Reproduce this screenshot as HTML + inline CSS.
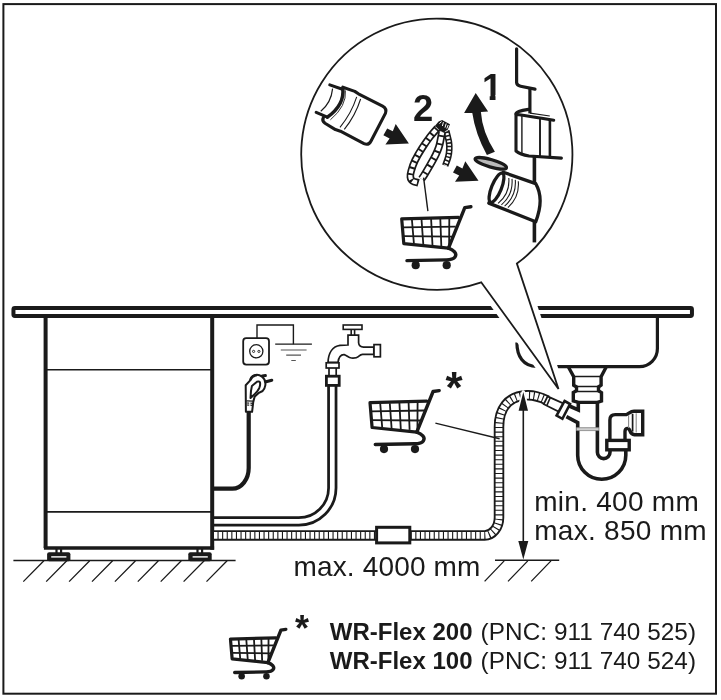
<!DOCTYPE html>
<html lang="en">
<head>
<meta charset="utf-8">
<title>Dishwasher drain hose installation</title>
<style>
html,body{margin:0;padding:0;background:#fff;}
body{width:721px;height:700px;overflow:hidden;}
svg{display:block;will-change:transform;}
text{font-family:"Liberation Sans",Arial,Helvetica,sans-serif;fill:#1a1a1a;}
.k{stroke:#1a1a1a;fill:none;stroke-linecap:butt;stroke-linejoin:miter;}
.r{stroke:#1a1a1a;fill:none;stroke-linecap:round;stroke-linejoin:round;}
.f{fill:#1a1a1a;stroke:none;}
.w{fill:#fff;}
.kw{stroke:#fff;fill:none;}
.kg{stroke:#555;fill:none;}
</style>
</head>
<body>
<svg width="721" height="700" viewBox="0 0 721 700">
<defs>
  <!-- shopping cart symbol, drawn at "bubble" size, origin = basket top-left region -->
  <g id="cart">
    <!-- grid -->
    <g class="k" stroke-width="1.8" vector-effect="non-scaling-stroke">
      <path vector-effect="non-scaling-stroke" d="M12.4 22.5 L14.4 46.5 M22 22.3 L23.8 47.4 M31.6 22 L33 48.2 M40.8 21.8 L41.8 49 M49.8 21.5 L49.6 49.8"/>
      <path vector-effect="non-scaling-stroke" d="M3.2 30.4 L56.2 29.6 M4 39.2 L52.6 39.6"/>
    </g>
    <!-- basket outline -->
    <path class="r" vector-effect="non-scaling-stroke" stroke-width="3.2" d="M2.2 21.8 L59 20.3 M2.2 21.8 L4.3 46.6 L48.8 51.2"/>
    <!-- handle + diagonal -->
    <path class="r" vector-effect="non-scaling-stroke" stroke-width="3.4" d="M71.4 9.7 L65.3 10.6 L49 51.2"/>
    <!-- lower hook + chassis -->
    <path class="r" vector-effect="non-scaling-stroke" stroke-width="3.4" d="M49 51.2 C54 53 58 56.5 55.5 60 C54 62.2 51 62.8 47 62.9 L7.5 63.6"/>
    <circle class="f" cx="16.2" cy="68.2" r="4.1"/>
    <circle class="f" cx="47.2" cy="68.2" r="4.1"/>
  </g>
  <clipPath id="one"><path d="M478 70 H503 V95.1 H495.5 V101 H489.7 V95.1 H478 Z"/></clipPath>
  <!-- straight block arrow used twice in the bubble -->
  <path id="arr" class="f" d="M395.7 124 L408.9 143.6 L385.4 144.6 L389.6 138.4 L383.4 135.2 L387.2 128.4 L392.8 131.2 Z"/>
</defs>

<!-- page background -->
<rect x="0" y="0" width="721" height="700" fill="#fff"/>

<!-- outer frame -->
<rect class="k" x="3.4" y="4.1" width="712.6" height="689.6" stroke-width="2"/>

<!--SECTION:worktop-->
<g id="worktop">
  <rect class="k" x="13.45" y="308" width="678.5" height="8" rx="1.4" stroke-width="4"/>
</g>
<!--SECTION:dishwasher-->
<g id="dishwasher">
  <path class="k" stroke-width="4" d="M45.6 317 V548 M212.2 317 V549.7"/>
  <path class="k" stroke-width="3.3" d="M43.9 548 H214.1"/>
  <path class="k" stroke-width="1.6" d="M46 369.8 H212 M46 511.9 H212"/>
  <!-- feet -->
  <g>
    <rect class="f" x="55.4" y="549" width="2.2" height="4"/><rect class="f" x="60" y="549" width="2.2" height="4"/>
    <rect class="f" x="47.1" y="552.2" width="23.3" height="9" rx="2"/>
    <rect class="w" x="51.2" y="556.2" width="15.2" height="1.4"/>
    <rect class="f" x="196.4" y="549" width="2.2" height="4"/><rect class="f" x="201" y="549" width="2.2" height="4"/>
    <rect class="f" x="188.3" y="552.2" width="23.4" height="9" rx="2"/>
    <rect class="w" x="192.6" y="556.2" width="15.2" height="1.4"/>
  </g>
</g>
<!--SECTION:floor-->
<g id="floor">
  <path class="k" stroke-width="1.5" d="M13.4 560.4 H235.6"/>
  <path class="k" stroke-width="1.3" d="M43.9 560.7 L23.3 581.6 M66.8 560.7 L46.2 581.6 M89.7 560.7 L69.1 581.6 M112.6 560.7 L92.0 581.6 M135.5 560.7 L114.9 581.6 M158.4 560.7 L137.8 581.6 M181.3 560.7 L160.7 581.6 M204.2 560.7 L183.6 581.6 M227.1 560.7 L206.5 581.6"/>
  <path class="k" stroke-width="1.5" d="M495 560.2 H559.2"/>
  <path class="k" stroke-width="1.3" d="M504.2 560.9 L484.6 581.4 M527.8 560.9 L508 581.4 M551 560.9 L531.2 581.4"/>
</g>
<!--SECTION:electric-->
<g id="electric">
  <!-- power cord -->
  <path class="k" stroke-width="4.2" d="M248.7 411 V468 A16.3 20.7 0 0 1 232.4 488.7 H213"/>
  <!-- socket -->
  <rect class="k" x="243.2" y="338.2" width="25.8" height="26.4" rx="3" stroke-width="1.8"/>
  <circle class="k" cx="256.3" cy="351.3" r="6.6" stroke-width="1.3"/>
  <circle class="k" cx="253.6" cy="351.4" r="1.1" stroke-width="0.9"/>
  <circle class="k" cx="258.9" cy="351.4" r="1.1" stroke-width="0.9"/>
  <!-- earth wire + symbol -->
  <path class="k" stroke-width="1.4" d="M257 338 V325 H293.4 V344.2"/>
  <path class="k" stroke-width="1.3" d="M275.2 344.2 H311.9"/>
  <path class="kg" stroke-width="1.2" d="M280.8 350 H306.6 M286.2 355.2 H301 M291.3 360.5 H295.8"/>
  <!-- plug -->
  <g>
    <path class="r w" stroke-width="2" d="M245.9 411.8 L245.7 385.2 L250.2 380.4 C250.6 378.4 251.4 376.8 253 375.8 C256 374.2 259.6 374.8 262 376.6 C264.6 378.8 265.8 382 265.3 385.4 C264.9 388 264 389.8 262.6 391 L258.4 393.2 L254.8 396.4 C254 398.6 253.6 400.4 253.2 402.4 L252.1 411.8 Z"/>
    <path class="r" stroke-width="2" d="M250.5 398 C250.6 393.4 251 389.4 251.9 386 L257 381.7 C258.2 381.2 259.6 381.4 260 382.4 C260.4 384.4 260 386.4 259.2 388.2 C258 390.6 256.4 392.6 254.3 394.4 Z"/>
    <path class="r" stroke-width="2.6" d="M250.6 379.4 C251.4 376.8 253.6 375.6 256.2 375.2"/>
    <path class="r" stroke-width="3" d="M262.2 375.9 L265.4 375.6 M266 381.7 L271.8 380.2"/>
    <path class="k" stroke-width="1.2" d="M246.4 400.8 L253.2 401.2 M246.8 403 L249.2 403.1 M250.4 403.2 L252.8 403.4 M247 405 L249.2 405.1 M250.4 405.2 L252.4 405.3"/>
  </g>
</g>
</g>
<!--SECTION:water-->
<g id="water">
  <!-- inlet hose -->
  <path class="k" stroke-width="10.2" d="M332.3 386 V487.9 A33.5 33.5 0 0 1 298.8 521.4 H213.5"/>
  <path class="kw" stroke-width="4.7" d="M332.3 385 V487.9 A33.5 33.5 0 0 1 298.8 521.4 H214.2"/>
  <!-- faucet -->
  <rect class="k w" x="343.2" y="325" width="18.8" height="4.4" stroke-width="1.6"/>
  <path class="k" stroke-width="1.6" d="M351.2 329.4 V335.2 M354.6 329.4 V335.2"/>
  <path class="k w" stroke-width="1.7" stroke-linejoin="round" d="M348 335.2 H358.6 V342.8 C358.8 345.6 361 347 363.6 347.2 H373.8 V354.4 H362.6 C360.4 354.6 359.6 355.6 358.4 356.6 C356.8 358 354.2 358.2 351.4 358 C348.4 357.8 347 355.4 344.2 354.6 C340.6 354.4 338.6 357.6 338 362.4 H328 C328.4 353 332.6 346.4 340 345.4 C342.8 345 345.4 345 348 345 Z"/>
  <rect class="k w" x="374" y="344.6" width="6.4" height="12.2" stroke-width="1.7"/>
  <rect class="k w" x="326.2" y="362.8" width="12.8" height="5.2" stroke-width="1.7"/>
  <path class="k" stroke-width="1.7" d="M329 368 V375 M336.2 368 V375"/>
  <rect class="k w" x="326.4" y="376.2" width="12.8" height="9.2" stroke-width="2.8"/>
</g>
<!--SECTION:drain-->
<g id="drain">
  <!-- corrugated drain hose -->
  <path class="k" stroke-width="10.5" d="M214 535.4 H484.6 A14.4 18 0 0 0 499 517.4 V427 C499 410 507 396 527 395.3 C535 395 541 397.4 547.4 400.4"/>
  <path class="kw" stroke-width="6.8" stroke-dasharray="3.5 1.1" d="M214 535.4 H484.6 A14.4 18 0 0 0 499 517.4 V427 C499 410 507 396 527 395.3 C535 395 541 397.4 547.4 400.4"/>
  <!-- smooth hose end + collar -->
  <path class="k w" stroke-width="1.8" d="M547.6 396.4 L565 404.2 L560 412.4 L543.8 404.2 Z"/>
  <path class="k" stroke-width="1.6" d="M550.4 397.2 L546.8 405.6"/>
  <!-- angled nut -->
  <path class="k w" stroke-width="2.6" stroke-linejoin="round" d="M564.6 401 L570 404 L562.4 418.8 L556.6 415.6 Z"/>
  <!-- in-line box -->
  <rect class="k w" x="376.6" y="527.3" width="33.2" height="15.6" stroke-width="3"/>
  <!-- siphon -->
  <g>
    <!-- tailpiece flare + threaded rings -->
    <path class="k w" stroke-width="3.4" stroke-linejoin="round" d="M568.4 367 L573.7 376.6 V385.2 L576.5 387 V390.8 L573.3 392.6 V401 L578.5 402.4 H597.5 L601.5 401 V392.6 L598.5 390.8 V387 L601.1 385.2 V376.6 L606.2 367"/>
    <path class="k" stroke-width="1.5" d="M573.6 376.6 H601.2 M576 386.4 H599 M576 391.6 H599 M578 402.2 H598"/>
    <!-- down pipe, branch and U bend -->
    <path class="k" stroke-width="3.6" stroke-linejoin="round" d="M578.3 402 V410 L569.4 406"/>
    <path class="k" stroke-width="3.6" stroke-linejoin="round" d="M566.4 416.6 L577.7 422.6 V455.2 A24.05 24.05 0 0 0 625.8 455.2 V451"/>
    <path class="k" stroke-width="3.6" d="M597.4 402 V452.3 A6.3 6.3 0 0 0 610 452.3 V451"/>
    <rect x="576.4" y="427.5" width="22.4" height="3.2" style="fill:#cfcfcf;stroke:none"/>
    <path d="M576.4 427.7 H598.8 M576.4 430.6 H598.8" style="stroke:#777;stroke-width:0.7;fill:none"/>
    <!-- elbow -->
    <path class="k w" stroke-width="3.4" stroke-linejoin="round" d="M609.9 440 V420 C609.9 416.6 611.8 414.6 615.2 414.6 H626.4 C629 413.2 631 411.2 634 411.2 H642.7 V434.8 H634.6 C631.6 434.4 630.6 432.6 630.2 431.4 C629.6 429.4 628.4 428.4 627.2 428.4 C625.6 428.6 625 430 625 431.6 V440"/>
    <path class="k" stroke-width="1.7" d="M632.6 414 V431.6"/>
    <path d="M628.6 415 V428 M636.2 413.2 V432.6" style="stroke:#8a8a8a;stroke-width:1.1;fill:none"/>
    <rect class="k w" x="606.8" y="440.4" width="22.4" height="9.4" stroke-width="3.4"/>
  </g>
  <!-- height arrow -->
    <path d="M523.3 392 L528 410.8 H518.6 Z" style="fill:#fff;stroke:#fff;stroke-width:3.4;stroke-linejoin:round"/>
  <path class="k" stroke-width="1.6" d="M523.3 408 V544"/>
  <path class="f" d="M523.3 392 L528 410.8 H518.6 Z M523.3 559.4 L528.3 541 H518.3 Z"/>
</g>
<!--SECTION:sink-->
<g id="sink">
  <path class="k" stroke-width="3.2" d="M657.4 317.5 V348.4 A18 18 0 0 1 639.4 366.6 H556"/>
  <path class="k" stroke-width="3.2" d="M516.9 342.4 C516.9 356 523 366.2 537 366.4"/>
  <!-- white halo around the call-out tail -->
  <path d="M516.9 263.6 L558.5 389 L481.2 282.3 Z" style="fill:#fff;stroke:#fff;stroke-width:12.4;stroke-linejoin:round"/>
</g>
<!--SECTION:bubble-->
<g id="bubble">
  <path class="k w" stroke-width="1.8" stroke-linejoin="miter" d="M516.9 263.6 L558.5 389 L481.2 282.3 A135.6 135.6 0 1 1 516.9 263.6 Z"/>

  <!-- hose end cap -->
  <g>
    <path class="k" stroke-width="1.2" d="M332.6 88.6 Q331.2 102.6 320.8 111.2"/>
    <path class="r w" stroke-width="3.1" d="M342.8 87.2 L354.8 91.4 L358.4 93.8 L382.6 106.2 Q387.2 108.8 385.4 113.4 L370.9 141.2 Q368.6 145.6 364 143.6 L340.4 131.2 L335.4 129.6 L325 123.2 Q321.6 120.6 323.4 117.4"/>
    <path class="r" stroke-width="3.1" d="M329.8 84.9 L342.4 89.2 M316.2 112.4 L327.3 117.1"/>
    <path class="r" stroke-width="3.5" d="M342.8 88.2 Q344.8 104.6 327.4 117.2"/>
    <path class="k" stroke-width="0.9" d="M345.4 90.4 Q346.8 106 330.4 119.8"/>
    <path class="k" stroke-width="1.1" d="M356.7 96.9 Q351.4 113.4 340 127.3 M360.6 99 Q355.4 115.6 344.3 129.4"/>
  </g>
  <use href="#arr"/>
  <text x="413" y="120.7" font-size="36.4" font-weight="bold">2</text>

  <!-- hose clamp -->
  <g>
    <path class="k" stroke-width="6.6" d="M446.2 130.6 C446.6 132.5 448.4 138.7 448.9 141.8 C449.4 144.9 449.4 146.8 449.3 149.3 C449.2 151.9 448.9 154.4 448.2 157.1 C447.5 159.8 445.7 164.2 445.2 165.6"/>
    <path class="kw" stroke-width="3.4" stroke-dasharray="2.1 1.5" stroke-dashoffset="1" d="M446.2 130.6 C446.6 132.5 448.4 138.7 448.9 141.8 C449.4 144.9 449.4 146.8 449.3 149.3 C449.2 151.9 448.9 154.4 448.2 157.1 C447.5 159.8 445.7 164.2 445.2 165.6"/>
    <path class="k" stroke-width="7.8" d="M442.1 132.0 C441.7 134.1 440.4 141.4 439.6 144.6 C438.8 147.8 438.4 148.6 437.4 151.0 C436.4 153.4 435.6 155.2 433.6 158.9 C431.6 162.6 427.2 170.1 425.2 173.4 C423.2 176.8 422.2 178.1 421.6 179.0"/>
    <path class="kw" stroke-width="4.4" stroke-dasharray="6.2 1.9" stroke-dashoffset="3" d="M442.1 132.0 C441.7 134.1 440.4 141.4 439.6 144.6 C438.8 147.8 438.4 148.6 437.4 151.0 C436.4 153.4 435.6 155.2 433.6 158.9 C431.6 162.6 427.2 170.1 425.2 173.4 C423.2 176.8 422.2 178.1 421.6 179.0"/>
    <path class="k" stroke-width="7.6" d="M437.5 128.0 C436.2 129.5 432.6 133.4 430.0 136.8 C427.4 140.2 424.3 144.7 421.8 148.6 C419.3 152.5 416.8 156.8 415.0 160.5 C413.2 164.2 412.0 168.2 411.2 171.0 C410.4 173.8 410.2 175.3 410.4 177.0 C410.6 178.7 411.2 180.0 412.6 181.0 C414.0 182.0 417.6 182.5 418.6 182.8"/>
    <path class="kw" stroke-width="4.2" stroke-dasharray="4.6 1.9" stroke-dashoffset="3.6" d="M437.5 128.0 C436.2 129.5 432.6 133.4 430.0 136.8 C427.4 140.2 424.3 144.7 421.8 148.6 C419.3 152.5 416.8 156.8 415.0 160.5 C413.2 164.2 412.0 168.2 411.2 171.0 C410.4 173.8 410.2 175.3 410.4 177.0 C410.6 178.7 411.2 180.0 412.6 181.0 C414.0 182.0 417.6 182.5 418.6 182.8"/>
    <path class="f" stroke-linejoin="round" d="M435 125.7 L438.6 121.4 L442.1 120 L450 124.3 L447.9 129.3 L443.6 132.6 L440 130.8 Z"/>
    <path class="kw" stroke-width="1" d="M439.4 123.6 L441.6 121.6 M443.4 122.2 L442.4 126 M446.2 123.6 L445 127.6 M448.2 125 L446.8 128.6"/>
  </g>
  <path class="k" stroke-width="1.4" d="M423.6 177.6 L427.9 211.1"/>
  <use href="#cart" transform="translate(399.5 197)"/>
  <use href="#arr" transform="translate(69.6 37.2)"/>

  <!-- curved arrow 1 -->
  <path class="f" d="M475.7 93 L464.1 113.1 L472.3 112.9 Q475.2 133.3 486.9 155.1 L494.9 151.7 Q482.3 132 480.9 112 L488.1 111.4 Z"/>
  <text x="482" y="100.3" font-size="36.4" font-weight="bold" clip-path="url(#one)">1</text>

  <!-- wall / bracket -->
  <path class="r" stroke-width="3.2" d="M516.6 48.8 V82.6 Q516.8 85.4 520.6 86.2 L535 89.1"/>
  <path class="k" stroke-width="3.2" d="M529.9 88.6 V113.4"/>
  <path class="k" stroke-width="3.6" d="M534.4 157 V242.4"/>
  <g>
    <path class="k" stroke-width="1.2" d="M530 113.1 L549.8 116"/>
    <path class="r w" stroke-width="3.1" d="M553.7 120.3 Q532 116.6 516 114.2 V151 Q520 154.6 529 156 L561.4 158.1"/>
    <path class="r" stroke-width="3.1" d="M516 114 Q515.4 111.4 528.4 109.4"/>
    <path class="k" stroke-width="1.4" d="M521.9 116 V153.4"/>
    <path class="k" stroke-width="1.9" d="M540 118.6 V156.6"/>
    <path class="k" stroke-width="2.6" d="M549.9 119.8 V157.2"/>
  </g>

  <!-- removed cover disc -->
  <ellipse class="k" cx="490.8" cy="163.3" rx="16.3" ry="3.7" transform="rotate(16 490.8 163.3)" stroke-width="3.2" style="fill:#b9b9b9"/>

  <!-- spigot -->
  <g>
    <path class="r w" stroke-width="3.3" d="M503.2 172.2 L535.7 183.6 Q544.6 199 535.7 221.8 L488.8 203.1 Z"/>
    <path class="k" stroke-width="1.1" d="M508.8 178.0 Q510.1 193.5 498.1 203.4 M512.0 178.9 Q513.3 194.7 501.4 204.8 M515.3 179.9 Q516.5 195.9 504.6 206.2 M518.3 181.2 Q519.7 197.2 507.9 207.5"/>
    <ellipse class="k w" cx="496.5" cy="187.8" rx="15.6" ry="4.9" transform="rotate(112.1 496.5 187.8)" stroke-width="3.3"/>
  </g>
</g>
<!--SECTION:labels-->
<g id="labels">
  <use href="#cart" transform="translate(367.8 380.9)"/>
  <text x="445.6" y="403.4" font-size="44" font-weight="bold">*</text>
  <path class="k" stroke-width="1.4" d="M435.4 423.1 L499.6 438.8"/>
  <text x="293.4" y="575.6" font-size="28" textLength="187" lengthAdjust="spacing">max. 4000 mm</text>
  <text x="534.2" y="511.4" font-size="28" textLength="164.6" lengthAdjust="spacing">min. 400 mm</text>
  <text x="534.2" y="540.2" font-size="28" textLength="172.4" lengthAdjust="spacing">max. 850 mm</text>

  <use href="#cart" transform="translate(228.7 621.6) scale(0.8)"/>
  <text x="295" y="640.6" font-size="36" font-weight="bold">*</text>
  <text x="329.8" y="639.7" font-size="24" font-weight="bold">WR-Flex 200</text>
  <text x="480.6" y="639.7" font-size="24.3" textLength="215.4" lengthAdjust="spacing">(PNC: 911 740 525)</text>
  <text x="329.8" y="668.8" font-size="24" font-weight="bold">WR-Flex 100</text>
  <text x="480.6" y="668.8" font-size="24.3" textLength="215.4" lengthAdjust="spacing">(PNC: 911 740 524)</text>
</g>
</svg>
</body>
</html>
